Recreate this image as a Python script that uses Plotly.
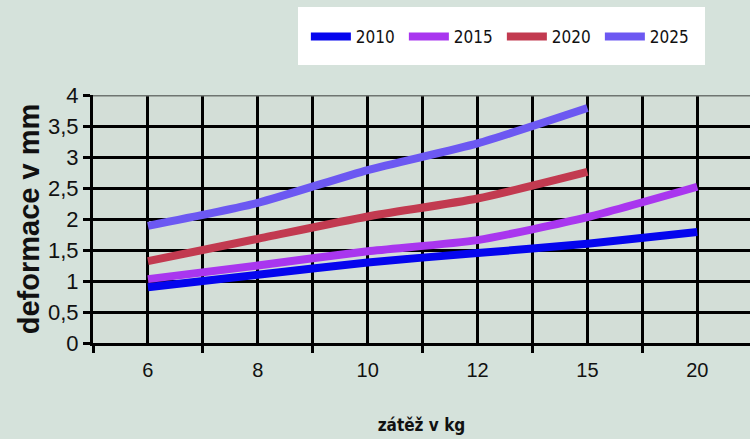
import plotly.graph_objects as go

categories = ["6", "8", "10", "12", "15", "20"]
series_names = ["2010", "2015", "2020", "2025"]
v2010 = [0.90, 1.10, 1.30, 1.45, 1.60, 1.79]
v2015 = [1.03, 1.25, 1.48, 1.66, 2.03, 2.52]
v2020 = [1.32, 1.68, 2.04, 2.33, 2.76]
v2025 = [1.89, 2.26, 2.79, 3.22, 3.79]
y_ticks = [0, 0.5, 1, 1.5, 2, 2.5, 3, 3.5, 4]
y_ticktext = ["0", "0,5", "1", "1,5", "2", "2,5", "3", "3,5", "4"]

colors = ["#0505ee", "#a936ef", "#c23a50", "#6c58f2"]
values = [v2010, v2015, v2020, v2025]

fig = go.Figure()
idx = list(range(len(categories)))
for name, vals, c in zip(series_names, values, colors):
    fig.add_trace(go.Scatter(
        x=idx[:len(vals)], y=vals, name=name, mode="lines",
        line=dict(color=c, width=8, shape="spline", smoothing=0.6),
    ))

narrow = "Liberation Sans Narrow, DejaVu Sans Condensed, Liberation Sans, sans-serif"
regular = "Liberation Sans, Arial, sans-serif"

fig.update_layout(
    width=750, height=439,
    margin=dict(l=93, r=0, t=95, b=96, autoexpand=False),
    paper_bgcolor="#d5e2db",
    plot_bgcolor="#d3ded7",
    showlegend=True,
    legend=dict(
        orientation="h", x=0.324, y=1.307, xanchor="left", yanchor="top",
        bgcolor="rgba(0,0,0,0)", font=dict(family=narrow, size=17, color="#111111"),
        entrywidth=43, entrywidthmode="pixels", itemwidth=40,
        tracegroupgap=0,
    ),
    xaxis=dict(
        range=[-0.5, 5.48], automargin=False,
        tickmode="array", tickvals=idx, ticktext=categories,
        ticks="", showgrid=True, gridcolor="#000000", gridwidth=2.5,
        tickfont=dict(family=regular, size=20, color="#111111"),
        ticklabelstandoff=7,
        showline=True, linecolor="#000000", linewidth=3,
        zeroline=False,
        minor=dict(tickvals=[i - 0.5 for i in range(7)], ticks="outside", ticklen=7,
                   tickwidth=2.5, tickcolor="#000000", showgrid=True,
                   gridcolor="#000000", gridwidth=2.5),
        title=dict(text="<b>zátěž v kg</b>", font=dict(family=narrow, size=17, color="#111111"),
                   standoff=40),
        fixedrange=True,
    ),
    yaxis=dict(
        range=[0, 4], automargin=False,
        tickmode="array", tickvals=y_ticks, ticktext=y_ticktext,
        ticks="outside", ticklen=7, tickwidth=2.5, tickcolor="#000000",
        showgrid=True, gridcolor="#000000", gridwidth=2.5,
        tickfont=dict(family=regular, size=22, color="#111111"),
        showline=True, linecolor="#000000", linewidth=3,
        zeroline=False,
        title=dict(text="<b>deformace v mm</b>", font=dict(family=regular, size=29, color="#111111"),
                   standoff=0),
        fixedrange=True,
    ),
)
fig.add_shape(type="line", xref="paper", yref="y", x0=0, x1=1, y0=4, y1=4,
              line=dict(color="#6f7571", width=3))
# white legend box
fig.add_shape(type="rect", xref="paper", yref="paper", x0=0.312, x1=0.9315,
              y0=1.121, y1=1.355, fillcolor="#ffffff", line=dict(width=0), layer="below")

fig.write_html("out.html", config={"displayModeBar": False},
               post_script="document.body.style.margin='0px';")
